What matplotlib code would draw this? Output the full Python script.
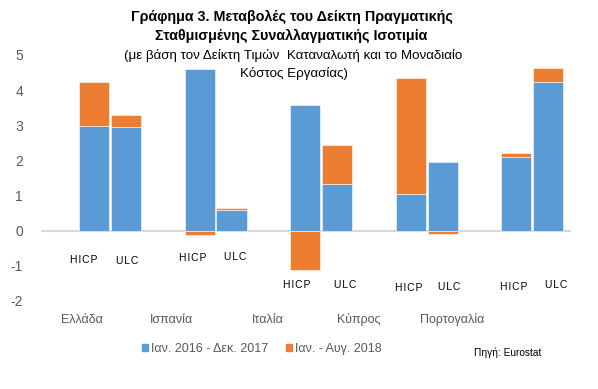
"""Stacked bars: real effective exchange rate changes (HICP vs ULC based)."""
import matplotlib.pyplot as plt
import numpy as np
from matplotlib.patches import Patch

plt.rcParams.update({
    "font.family": ["Liberation Sans", "DejaVu Sans"],
    "axes.unicode_minus": False,
})

BLUE = "#5B9BD5"
ORANGE = "#ED7D31"
GREY = "#595959"

W, H = 598, 389

countries = ["Ελλάδα", "Ισπανία", "Ιταλία", "Κύπρος", "Πορτογαλία"]
series_labels = ["Ιαν. 2016 - Δεκ. 2017", "Ιαν. - Αυγ. 2018"]

# HICP based
hicp_2016_17 = [2.97, 4.61, 3.57, 1.04, 2.11]
hicp_2018 = [1.27, -0.11, -1.12, 3.30, 0.09]
# ULC based
ulc_2016_17 = [2.94, 0.60, 1.32, 1.95, 4.24]
ulc_2018 = [0.36, 0.05, 1.12, -0.09, 0.40]

yticks = [-2, -1, 0, 1, 2, 3, 4, 5]

# manually placed text boxes in the original (pixel centres)
cat_label_px = [(82, 320), (172, 320), (268, 320), (359, 320), (452, 320)]
hicp_label_px = [(84, 260), (193, 258), (297, 285), (409, 288), (514, 287)]
ulc_label_px = [(127, 261), (235, 257), (345, 285), (449, 287), (556, 285)]

fig = plt.figure(figsize=(W / 100, H / 100), dpi=100)
ax_l, ax_r, ax_t, ax_b = 41, 571, 55, 301
ax = fig.add_axes([ax_l / W, 1 - ax_b / H, (ax_r - ax_l) / W, (ax_b - ax_t) / H])


def px(x, y):
    return x / W, 1 - y / H


def stack(x, base, extra, width):
    ax.bar(x, base, width, color=BLUE, edgecolor="white", linewidth=0.4, zorder=2)
    extra = np.asarray(extra)
    bottoms = np.where(extra >= 0, np.asarray(base), 0)
    ax.bar(x, extra, width, bottom=bottoms, color=ORANGE, edgecolor="white",
           linewidth=0.4, zorder=2)


x = np.arange(len(countries))
bw = 0.285
stack(x - 0.151, hicp_2016_17, hicp_2018, bw)
stack(x + 0.151, ulc_2016_17, ulc_2018, bw)

ax.axhline(0, color="#D9D9D9", linewidth=1.5, zorder=1)
ax.set_xlim(-0.653, 4.366)
ax.set_ylim(-2, 5)
ax.set_yticks(yticks)
ax.set_xticks([])
ax.tick_params(axis="y", length=0, pad=13, labelsize=10, labelcolor=GREY)
for s in ax.spines.values():
    s.set_visible(False)
ax.patch.set_alpha(0)

for name, (cx, cy) in zip(countries, cat_label_px):
    fig.text(*px(cx, cy), name, ha="center", va="center", fontsize=9, color=GREY)
for (hx, hy), (ux, uy) in zip(hicp_label_px, ulc_label_px):
    fig.text(*px(hx, hy), "H I C P".replace(" ", "\u200a"), ha="center",
             va="center", fontsize=7.5, color="black")
    fig.text(*px(ux, uy), "U L C".replace(" ", "\u200a"), ha="center",
             va="center", fontsize=7.5, color="black")

fig.text(*px(292, 17), "Γράφημα 3. Μεταβολές του Δείκτη Πραγματικής",
         ha="center", va="center", fontsize=10.3, fontweight="bold")
fig.text(*px(291, 36), "Σταθμισμένης Συναλλαγματικής Ισοτιμία",
         ha="center", va="center", fontsize=10.3, fontweight="bold")
fig.text(*px(293, 55), "(με βάση τον Δείκτη Τιμών  Καταναλωτή και το Μοναδιαίο",
         ha="center", va="center", fontsize=9.6)
fig.text(*px(294, 73), "Κόστος Εργασίας)", ha="center", va="center", fontsize=9.6)

handles = [Patch(color=BLUE), Patch(color=ORANGE)]
fig.legend(handles, series_labels, loc="center", bbox_to_anchor=px(262, 349),
           ncol=2, frameon=False, fontsize=9, labelcolor=GREY,
           handlelength=0.45, handleheight=0.45, handletextpad=0.3,
           columnspacing=1.4)
fig.text(*px(508, 353), "Πηγή: Eurostat", ha="center", va="center", fontsize=7.3)

fig.savefig("out.png", dpi=100, facecolor="white")
